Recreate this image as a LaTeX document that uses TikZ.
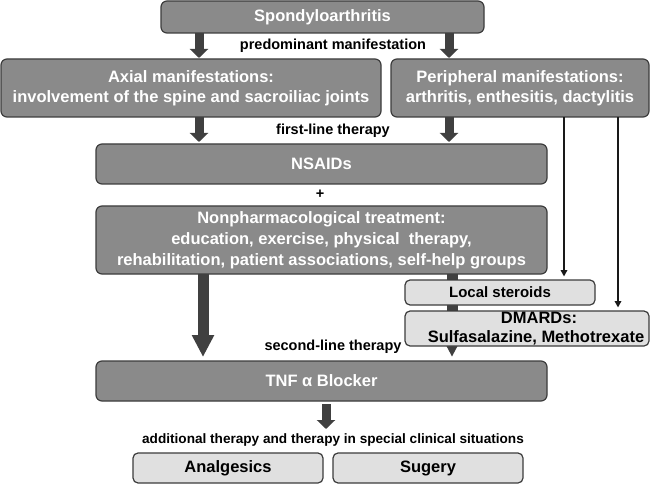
\documentclass[tikz,border=0pt]{standalone}
\usepackage{fontspec}
\setmainfont{Liberation Sans}
\usetikzlibrary{arrows.meta}
\definecolor{boxdark}{RGB}{138,138,138}
\definecolor{boxlight}{RGB}{224,224,224}
\definecolor{edgegray}{RGB}{60,60,60}
\definecolor{arrowgray}{RGB}{64,64,64}
\tikzset{
  darkbox/.style={draw=edgegray, line width=1.2pt, fill=boxdark, rounded corners=6pt,
    text=white, font=\fontsize{16.5}{20}\selectfont\bfseries, align=center,
    inner sep=0pt, outer sep=0pt},
  lightbox/.style={draw=edgegray, line width=1.2pt, fill=boxlight, rounded corners=5pt,
    text=black, font=\fontsize{16.5}{19}\selectfont\bfseries, align=center,
    inner sep=0pt, outer sep=0pt},
  lbl/.style={text=black, font=\fontsize{14.5}{17}\selectfont\bfseries, inner sep=0pt},
  fatarrow/.style={draw=arrowgray, line width=9pt, -{Triangle[width=18pt,length=9pt]}},
  bigarrow/.style={draw=arrowgray, line width=11pt, -{Triangle[width=21pt,length=22pt]}},
  thinarrow/.style={draw=black!90, line width=2pt, -{Triangle[width=6.5pt,length=6.5pt]}, shorten >=3.5pt},
}
\begin{document}
\begin{tikzpicture}[x=1pt,y=-1pt]
\useasboundingbox (0,0) rectangle (651,484);
% main chain
\node[darkbox, minimum width=323pt, minimum height=32pt] (spondy) at (322.5,17) {Spondyloarthritis};
\node[darkbox, minimum width=380pt, minimum height=58pt] (axial) at (191,88)
  {\raisebox{-2pt}{Axial manifestations:}\\\raisebox{-2pt}{involvement of the spine and sacroiliac joints}};
\node[darkbox, minimum width=258pt, minimum height=58pt] (periph) at (520,88)
  {\raisebox{-2pt}{Peripheral manifestations:}\\\raisebox{-2pt}{arthritis, enthesitis, dactylitis}};
\node[darkbox, minimum width=451pt, minimum height=40pt] (nsaids) at (321.5,164) {NSAIDs};
\node[darkbox, minimum width=451pt, minimum height=68pt, font=\fontsize{16.5}{21}\selectfont\bfseries] (nonph) at (321.5,240)
  {Nonpharmacological treatment:\\education, exercise, physical\ \ therapy,\\rehabilitation, patient associations, self-help groups};
\node[darkbox, minimum width=451pt, minimum height=40pt] (tnf) at (321.5,381) {TNF α Blocker};

% labels
\node[lbl] (l1) at (333,46) {predominant manifestation};
\node[lbl] (l2) at (333,131) {first-line therapy};
\node[lbl] (plus) at (320,194) {+};
\node[lbl] (l3) at (333,347) {second-line therapy};
\node[text=black, font=\fontsize{13.6}{16}\selectfont\bfseries, inner sep=0pt] (l4) at (333,440)
  {additional therapy and therapy in special clinical situations};

% column coordinates
\coordinate (cl) at (199,0);
\coordinate (cr) at (449,0);
\coordinate (cbl) at (203,0);
\coordinate (cbr) at (452,0);
\coordinate (ct) at (326,0);
\coordinate (ca) at (564,0);
\coordinate (cb) at (618,0);

% fat arrows
\draw[fatarrow] (spondy.south -| cl) -- ([yshift=1pt]axial.north -| cl);
\draw[fatarrow] (spondy.south -| cr) -- ([yshift=1pt]periph.north -| cr);
\draw[fatarrow] (axial.south -| cl) -- ([yshift=2pt]nsaids.north -| cl);
\draw[fatarrow] (periph.south -| cr) -- ([yshift=2pt]nsaids.north -| cr);
\draw[bigarrow] (nonph.south -| cbl) -- ([yshift=4pt]tnf.north -| cbl);
\draw[bigarrow] (nonph.south -| cbr) -- ([yshift=4pt]tnf.north -| cbr);
\draw[fatarrow] ([yshift=-3pt]tnf.south -| ct) -- ([yshift=-28pt]tnf.south -| ct) coordinate (tend);

% side boxes (over the right big arrow)
\node[lightbox, minimum width=190pt, minimum height=25pt, font=\fontsize{15}{17}\selectfont\bfseries] (local) at (500,292.5) {Local steroids};
\node[lightbox, minimum width=244pt, minimum height=35pt] (dmards) at (527,328.5)
  {\hspace*{24pt}DMARDs:\\\hspace*{18pt}Sulfasalazine, Methotrexate};

% thin arrows
\draw[thinarrow] (periph.south -| ca) -- (local.north -| ca);
\draw[thinarrow] (periph.south -| cb) -- (dmards.north -| cb);

% bottom boxes
\node[lightbox, minimum width=190pt, minimum height=30pt] (analg) at (228,468) {Analgesics};
\node[lightbox, minimum width=190pt, minimum height=30pt] (sug) at (428,468) {Sugery};
\end{tikzpicture}
\end{document}
